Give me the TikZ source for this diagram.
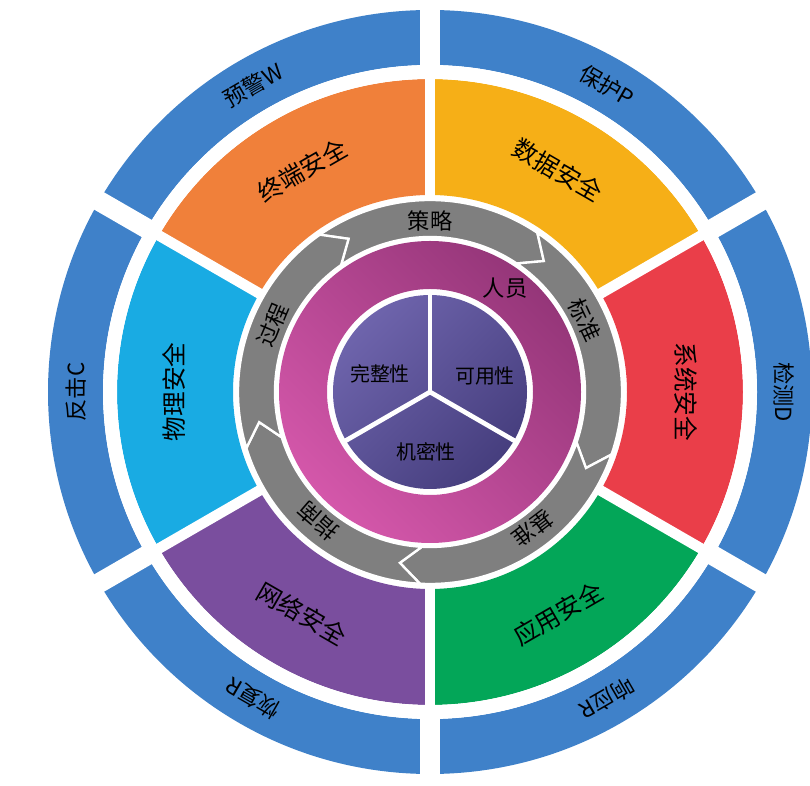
\documentclass[tikz,border=0pt]{standalone}
\usepackage{fontspec}
\newfontfamily\cjk{Noto Sans CJK SC}
\definecolor{cblue}{HTML}{3F81C9}
\definecolor{corange}{HTML}{F0803A}
\definecolor{cyellow}{HTML}{F6AF17}
\definecolor{cred}{HTML}{EA3E49}
\definecolor{cgreen}{HTML}{03A658}
\definecolor{cpurple}{HTML}{7A4E9E}
\definecolor{ccyan}{HTML}{19ABE3}
\definecolor{cgray}{HTML}{7F7F7F}
\definecolor{cmagA}{HTML}{D457AA}
\definecolor{cmagB}{HTML}{953679}
\definecolor{cdiskA}{HTML}{6E64AC}
\definecolor{cdiskB}{HTML}{463E7E}
\begin{document}
\begin{tikzpicture}[x=0.03cm,y=0.03cm,
  lbl/.style={font=\cjk\fontsize{19}{19}\selectfont,inner sep=0pt},
  seg/.style={font=\cjk\fontsize{21}{21}\selectfont,inner sep=0pt},
  gl/.style={font=\cjk\fontsize{19}{19}\selectfont,inner sep=0pt},
  il/.style={font=\cjk\fontsize{17}{17}\selectfont,inner sep=0pt}]
\useasboundingbox (0,0) rectangle (810,786);
\begin{scope}[shift={(430,394)}]
% outer blue ring
\fill[cblue,even odd rule] (0,0) circle (382) (0,0) circle (327);
% segments
\foreach \a/\c in {90/corange,30/cyellow,-30/cred,-90/cgreen,210/cpurple,150/ccyan}{
  \fill[\c] (\a:197) arc[start angle=\a,delta angle=60,radius=197] -- (\a+60:313) arc[start angle=\a+60,delta angle=-60,radius=313] -- cycle;
}
\fill[white,even odd rule] (0,0) circle (327) (0,0) circle (313);
\foreach \a in {90,30,-30,-90,210,150}{
  \draw[white,line width=9pt] (\a:190) -- (\a:395);
  \draw[white,line width=17pt] (\a:318) -- (\a:395);
}
% gray arrows
\foreach \s/\e in {125/56,56/-19,-19/-93,-93/-163,197/125}{
  \filldraw[cgray,draw=white,line width=2pt] (\s:192) arc[start angle=\s,end angle=\e,radius=192] -- (\e-7:173.5) -- (\e:155) arc[start angle=\e,end angle=\s,radius=155] -- (\s-7:173.5) -- cycle;
}
% magenta ring
\shade[left color=cmagA,right color=cmagB,shading angle=135,even odd rule] (0,0) circle (151) (0,0) circle (103);
% inner disk
\shade[left color=cdiskA,right color=cdiskB,shading angle=45] (0,0) circle (97);
\foreach \a in {90,-30,210} \draw[white,line width=4pt] (0,0) -- (\a:99);
% labels blue
\foreach \a/\t [count=\i] in {120/预警W,60/保护P,0/检测D,-60/响应R,240/恢复R,180/反击C}
  \node[lbl,rotate=\a-90] (b\i) at (\a:354) {\t};
% segment labels
\node[seg,rotate=30] (s1) at (120:256) {终端安全};
\node[seg,rotate=-30] (s2) at (60:256) {数据安全};
\node[seg,rotate=-90] (s3) at (0:256) {系统安全};
\node[seg,rotate=30] (s4) at (-60:256) {应用安全};
\node[seg,rotate=-30] (s5) at (240:256) {网络安全};
\node[seg,rotate=90] (s6) at (180:256) {物理安全};
% gray labels
\foreach \a/\t [count=\i] in {90/策略,25/标准,-53/基准,229/指南,157/过程}
  \node[gl,rotate=\a-90] (g\i) at (\a:171) {\t};
\node[gl] (ry) at (54:128) {人员};
\node[il] (i1) at (-50,18) {完整性};
\node[il] (i2) at (55,16) {可用性};
\node[il] (i3) at (-4,-60) {机密性};
\end{scope}
\end{tikzpicture}
\end{document}
